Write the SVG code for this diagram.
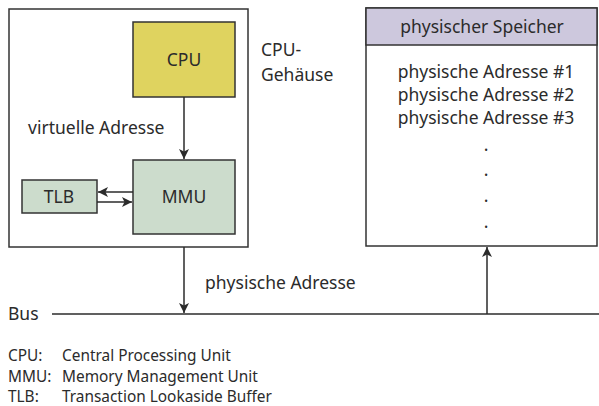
<svg xmlns="http://www.w3.org/2000/svg" width="599" height="406" viewBox="0 0 599 406">
  <defs>
    <marker id="arr" viewBox="0 0 10 10" refX="10" refY="5" markerWidth="10" markerHeight="10" markerUnits="userSpaceOnUse" orient="auto">
      <path d="M0,0 L10,5 L0,10 L2.5,5 Z" fill="#2b2b2b"/>
    </marker>
    <style>
      .box { stroke: #333333; stroke-width: 1.5; }
      .t { font-family: "Noto Sans", "Open Sans", sans-serif; font-size: 17.5px; fill: #2b2b2b; }
      .s { font-family: "Noto Sans", "Open Sans", sans-serif; font-size: 15.4px; fill: #2b2b2b; }
      .c { text-anchor: middle; }
      .ln { stroke: #2b2b2b; stroke-width: 1.5; fill: none; }
    </style>
  </defs>
  <rect width="599" height="406" fill="#ffffff"/>

  <!-- CPU package -->
  <g id="cpu-package">
    <rect class="box" x="9" y="9" width="239" height="238" fill="#ffffff"/>
    <text class="t" x="261" y="56">CPU-</text>
    <text class="t" x="261" y="81">Gehäuse</text>
  </g>

  <g id="cpu">
    <rect class="box" x="133" y="22" width="102" height="75" fill="#dfd35f"/>
    <text class="t c" x="184" y="66">CPU</text>
  </g>

  <g id="mmu">
    <rect class="box" x="133" y="160" width="102" height="74" fill="#ccdccc"/>
    <text class="t c" x="184" y="203">MMU</text>
  </g>

  <g id="tlb">
    <rect class="box" x="22" y="180" width="75" height="33" fill="#ccdccc"/>
    <text class="t c" x="59" y="203">TLB</text>
  </g>

  <!-- physical memory -->
  <g id="memory">
    <rect class="box" x="366" y="8" width="231" height="238" fill="#ffffff"/>
    <rect class="box" x="366" y="8" width="231" height="37" fill="#cdc8dd"/>
    <text class="t c" x="482" y="33">physischer Speicher</text>
    <text class="t c" x="486" y="78">physische Adresse #1</text>
    <text class="t c" x="486" y="101">physische Adresse #2</text>
    <text class="t c" x="486" y="124">physische Adresse #3</text>
    <text class="t c" x="486" y="151">.</text>
    <text class="t c" x="486" y="176">.</text>
    <text class="t c" x="486" y="202">.</text>
    <text class="t c" x="486" y="228">.</text>
  </g>

  <!-- bus -->
  <g id="bus">
    <text class="t" x="8" y="320">Bus</text>
    <line class="ln" x1="52" y1="314" x2="599" y2="314"/>
  </g>

  <!-- connectors -->
  <g id="connectors">
    <line class="ln" x1="184" y1="97" x2="184" y2="159" marker-end="url(#arr)"/>
    <text class="t" x="28" y="134">virtuelle Adresse</text>
    <line class="ln" x1="133" y1="192" x2="98" y2="192" marker-end="url(#arr)"/>
    <line class="ln" x1="97" y1="202" x2="132" y2="202" marker-end="url(#arr)"/>
    <line class="ln" x1="184" y1="247" x2="184" y2="313" marker-end="url(#arr)"/>
    <text class="t" x="205" y="289">physische Adresse</text>
    <line class="ln" x1="487" y1="314" x2="487" y2="247" marker-end="url(#arr)"/>
  </g>

  <!-- legend -->
  <g id="legend">
    <text class="s" x="8" y="361">CPU:</text>
    <text class="s" x="62" y="361">Central Processing Unit</text>
    <text class="s" x="8" y="382">MMU:</text>
    <text class="s" x="62" y="382">Memory Management Unit</text>
    <text class="s" x="8" y="402">TLB:</text>
    <text class="s" x="62" y="402">Transaction Lookaside Buffer</text>
  </g>
</svg>
